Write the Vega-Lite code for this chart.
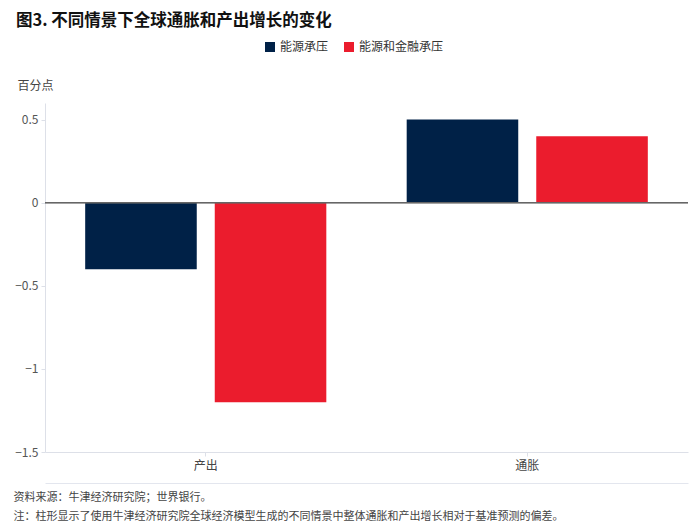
{
  "$schema": "https://vega.github.io/schema/vega-lite/v6.json",
  "width": 643,
  "height": 349,
  "autosize": {"type": "none"},
  "padding": {"left": 45, "top": 103, "right": 12, "bottom": 76},
  "background": "white",
  "config": {
    "font": "Noto Sans CJK SC",
    "view": {"stroke": null}
  },
  "title": {
    "text": "图3. 不同情景下全球通胀和产出增长的变化",
    "anchor": "start",
    "frame": "group",
    "fontSize": 16.5,
    "fontWeight": "bold",
    "color": "#111111",
    "dx": -29,
    "offset": 12
  },
  "data": {
    "values": [
      {"category": "产出", "scenario": "能源承压", "value": -0.4},
      {"category": "产出", "scenario": "能源和金融承压", "value": -1.2},
      {"category": "通胀", "scenario": "能源承压", "value": 0.5},
      {"category": "通胀", "scenario": "能源和金融承压", "value": 0.4}
    ]
  },
  "resolve": {"axis": {"x": "independent"}},
  "layer": [
    {
      "mark": {"type": "bar"},
      "encoding": {
        "x": {
          "field": "category",
          "type": "nominal",
          "sort": ["产出", "通胀"],
          "scale": {"paddingInner": 0.25, "paddingOuter": 0.125},
          "axis": {
            "orient": "bottom",
            "title": ["资料来源：牛津经济研究院；世界银行。", "注：柱形显示了使用牛津经济研究院全球经济模型生成的不同情景中整体通胀和产出增长相对于基准预测的偏差。"],
            "titleAnchor": "start",
            "titleAlign": "left",
            "titleBaseline": "middle",
            "titleX": -32,
            "titleY": 45,
            "titleFontSize": 11,
            "titleFontWeight": "normal",
            "titleColor": "#444444",
            "titleLineHeight": 19,
            "labelAngle": 0,
            "labelFontSize": 12,
            "labelColor": "#444444",
            "labelPadding": 4,
            "domainColor": "#dde0e8",
            "tickColor": "#dde0e8",
            "tickSize": 4
          }
        },
        "xOffset": {
          "field": "scenario",
          "type": "nominal",
          "sort": ["能源承压", "能源和金融承压"],
          "scale": {"paddingInner": 0.139, "paddingOuter": 0}
        },
        "y": {
          "field": "value",
          "type": "quantitative",
          "scale": {"domain": [-1.5, 0.6], "nice": false},
          "axis": {
            "values": [-1.5, -1, -0.5, 0, 0.5],
            "format": "~g",
            "grid": false,
            "title": "百分点",
            "titleAngle": 0,
            "titleAlign": "left",
            "titleBaseline": "middle",
            "titleX": -28,
            "titleY": -18,
            "titleFontSize": 12,
            "titleFontWeight": "normal",
            "titleColor": "#444444",
            "labelFontSize": 12,
            "labelColor": "#555555",
            "labelPadding": 3,
            "domainColor": "#dde0e8",
            "tickColor": "#dde0e8",
            "tickSize": 4
          }
        },
        "color": {
          "field": "scenario",
          "type": "nominal",
          "sort": ["能源承压", "能源和金融承压"],
          "scale": {"domain": ["能源承压", "能源和金融承压"], "range": ["#002147", "#EB1C2D"]},
          "legend": {
            "title": null,
            "orient": "none",
            "direction": "horizontal",
            "legendX": 219,
            "legendY": -62,
            "symbolType": "square",
            "symbolSize": 100,
            "symbolStrokeWidth": 0,
            "labelFontSize": 12,
            "labelColor": "#333333",
            "labelOffset": 4,
            "columnPadding": 14
          }
        }
      }
    },
    {
      "mark": {"type": "bar", "opacity": 0},
      "encoding": {
        "x": {
          "field": "category",
          "type": "nominal",
          "sort": ["产出", "通胀"],
          "axis": {
            "orient": "bottom",
            "title": null,
            "labels": false,
            "ticks": false,
            "offset": 31,
            "domainColor": "#e3e6ee",
            "domainWidth": 1
          }
        },
        "xOffset": {"field": "scenario", "type": "nominal", "sort": ["能源承压", "能源和金融承压"]},
        "y": {"field": "value", "type": "quantitative"}
      }
    },
    {
      "mark": {"type": "rule", "color": "#666666", "strokeWidth": 1},
      "encoding": {
        "y": {"datum": 0, "type": "quantitative"}
      }
    }
  ]
}
